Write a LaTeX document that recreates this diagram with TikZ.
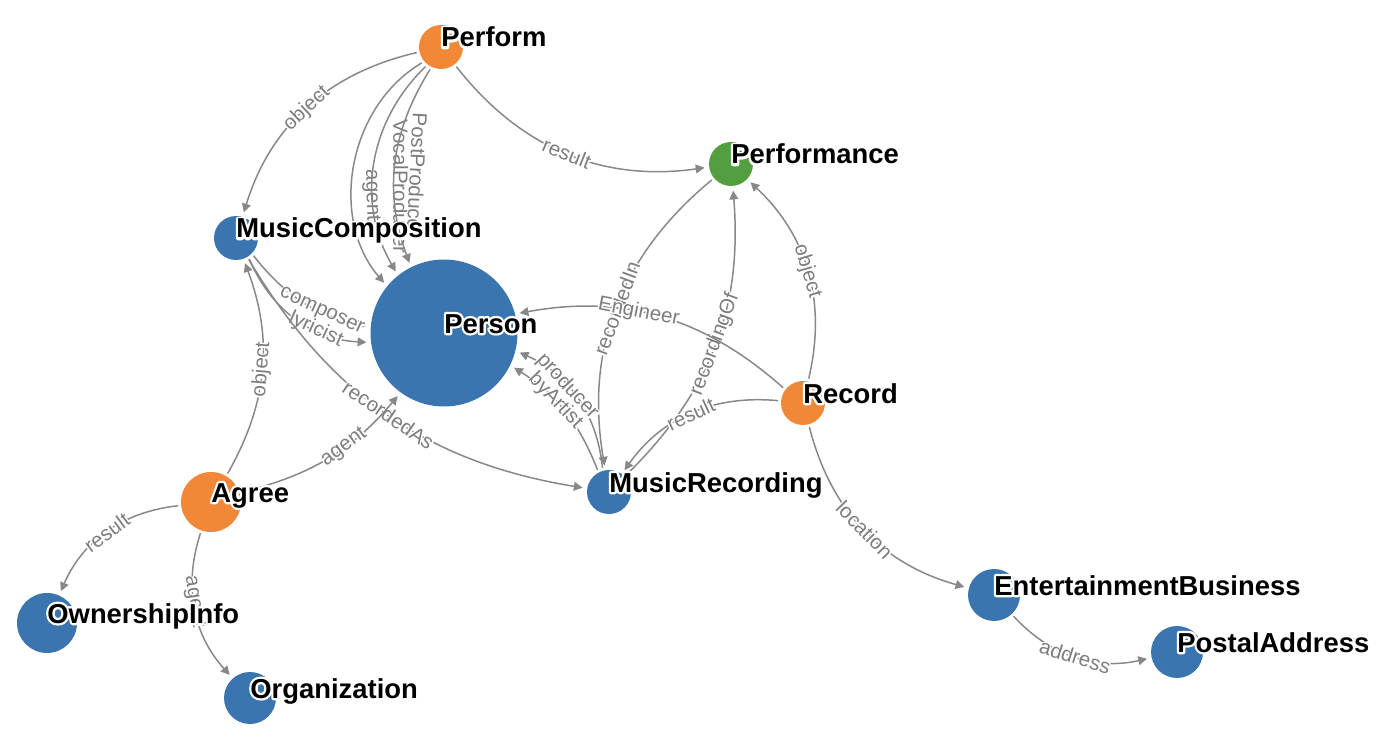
\documentclass[tikz,border=0pt]{standalone}
\usepackage{fontspec}
\setmainfont{Liberation Sans}
\usetikzlibrary{arrows.meta}
\definecolor{entblue}{RGB}{58,117,175}
\definecolor{entorange}{RGB}{240,136,56}
\definecolor{entgreen}{RGB}{83,158,63}
\definecolor{linkgray}{RGB}{136,136,136}
\definecolor{labgray}{RGB}{125,125,125}
% white halo: stroked copy first, filled text on top
\newcommand\halotxt[2]{\leavevmode\rlap{\special{pdf:literal direct 1 Tr #1 w 1 1 1 RG 1 j 1 J}#2\special{pdf:literal direct 0 Tr}}#2}
\newcommand\nodetxt[1]{\halotxt{2.6}{#1}}
\newcommand\linktxt[1]{\halotxt{1.8}{#1}}
\tikzset{
  ent/.style={circle, inner sep=0pt, draw=none, minimum size=0.88cm},
  blueent/.style={ent, fill=entblue},
  orangeent/.style={ent, fill=entorange},
  greenent/.style={ent, fill=entgreen},
  nlab/.style={anchor=base west, inner sep=0pt,
               font=\fontsize{15.6}{16}\selectfont\bfseries},
  elab/.style={sloped, inner sep=0pt, text=labgray,
               font=\fontsize{11.7}{12}\selectfont},
  downlab/.style={elab, allow upside down, above=5pt},
  link/.style={draw=linkgray, line width=0.85pt,
               -{Triangle[length=5pt,width=5pt]},
               shorten >=2.5pt, shorten <=1.5pt},
}

\begin{document}
\begin{tikzpicture}[x=0.02cm, y=0.02cm]
  \useasboundingbox (0,0) rectangle (1388,-746);

  % entities
  \node[orangeent] (perform)     at (441,-47)  {};
  \node[greenent]  (performance) at (731,-164) {};
  \node[blueent]   (mcomp)       at (236,-238) {};
  \node[blueent, minimum size=2.94cm] (person) at (444,-333) {};
  \node[orangeent] (record)      at (803,-403) {};
  \node[blueent]   (mrec)        at (609,-492) {};
  \node[orangeent, minimum size=1.2cm] (agree) at (211,-502) {};
  \node[blueent, minimum size=1.2cm]   (owner) at (47,-623)  {};
  \node[blueent, minimum size=1.04cm]  (org)   at (250,-698) {};
  \node[blueent, minimum size=1.04cm]  (ebiz)  at (994,-595) {};
  \node[blueent, minimum size=1.04cm]  (postal) at (1177,-652) {};

  % relations
  \draw[link] (perform) to[bend right=30]
    node[elab]{\linktxt{object}} (mcomp);
  \draw[link] (perform) to[bend right=30]
    node[elab]{\linktxt{result}} (performance);
  \draw[link] (perform) to[bend right=50]
    node[downlab, pos=0.62]{\linktxt{agent}} (person);
  \draw[link] (perform) to[bend right=38]
    node[downlab, pos=0.6, above=6pt]{\linktxt{VocalProducer}} (person);
  \draw[link] (perform) to[bend right=26]
    node[downlab, pos=0.55, above=3pt]{\linktxt{PostProducer}} (person);
  \draw[link] (mcomp) to[bend right=20]
    node[elab, pos=0.65]{\linktxt{composer}} (person);
  \draw[link] (mcomp) to[bend right=32]
    node[elab, pos=0.65]{\linktxt{lyricist}} (person);
  \draw[link] (mcomp) to[bend right=25]
    node[elab, pos=0.5]{\linktxt{recordedAs}} (mrec);
  \draw[link] (agree) to[bend right=25]
    node[elab]{\linktxt{object}} (mcomp);
  \draw[link] (agree) to[bend right=18]
    node[elab, pos=0.6]{\linktxt{agent}} (person);
  \draw[link] (agree) to[bend right=30]
    node[elab]{\linktxt{result}} (owner);
  \draw[link] (agree) to[bend right=30]
    node[elab, pos=0.45]{\linktxt{agent}} (org);
  \draw[link] (performance) to[bend right=30]
    node[elab]{\linktxt{recordedIn}} (mrec);
  \draw[link] (mrec) to[bend right=25]
    node[elab, pos=0.5]{\linktxt{recordingOf}} (performance);
  \draw[link] (record) to[bend right=30]
    node[elab]{\linktxt{object}} (performance);
  \draw[link] (record) to[bend right=26]
    node[elab, pos=0.58]{\linktxt{Engineer}} (person);
  \draw[link] (record) to[bend right=30]
    node[elab]{\linktxt{result}} (mrec);
  \draw[link] (mrec) to[bend right=30]
    node[elab, pos=0.6]{\linktxt{producer}} (person);
  \draw[link] (mrec) to[bend right=18]
    node[elab, pos=0.6]{\linktxt{byArtist}} (person);
  \draw[link] (record) to[bend right=30]
    node[elab]{\linktxt{location}} (ebiz);
  \draw[link] (ebiz) to[bend right=30]
    node[elab]{\linktxt{address}} (postal);

  % names
  \node[nlab] (performT)     at (perform.center)     {\nodetxt{Perform}};
  \node[nlab] (performanceT) at (performance.center) {\nodetxt{Performance}};
  \node[nlab] (mcompT)       at (mcomp.center)       {\nodetxt{MusicComposition}};
  \node[nlab] (personT)      at (person.center)      {\nodetxt{Person}};
  \node[nlab] (recordT)      at (record.center)      {\nodetxt{Record}};
  \node[nlab] (mrecT)        at (mrec.center)        {\nodetxt{MusicRecording}};
  \node[nlab] (agreeT)       at (agree.center)       {\nodetxt{Agree}};
  \node[nlab] (ownerT)       at (owner.center)       {\nodetxt{OwnershipInfo}};
  \node[nlab] (orgT)         at (org.center)         {\nodetxt{Organization}};
  \node[nlab] (ebizT)        at (ebiz.center)        {\nodetxt{EntertainmentBusiness}};
  \node[nlab] (postalT)      at (postal.center)      {\nodetxt{PostalAddress}};
\end{tikzpicture}
\end{document}
